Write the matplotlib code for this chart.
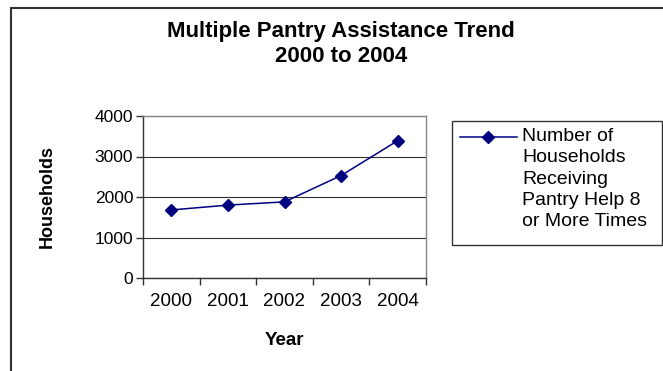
import numpy as np
import matplotlib.pyplot as plt
from matplotlib.lines import Line2D
from matplotlib.patches import Rectangle

# Values
years = ["2000", "2001", "2002", "2003", "2004"]
households = [1680, 1800, 1880, 2530, 3390]
y_ticks = [0, 1000, 2000, 3000, 4000]
title_lines = ["Multiple Pantry Assistance Trend", "2000 to 2004"]
series_label = "Number of\nHouseholds\nReceiving\nPantry Help 8\nor More Times"

plt.rcParams["font.family"] = ["Liberation Sans", "DejaVu Sans"]

W, H = 663, 371
fig = plt.figure(figsize=(W / 100, H / 100), dpi=100)


def fx(px):
    return px / W


def fy(py):
    return 1 - py / H


# outer chart border (runs off the right and bottom of the picture)
fig.patches.append(Rectangle((fx(11), -0.05), 1.1, fy(7.5) + 0.05,
                             transform=fig.transFigure, fill=False,
                             edgecolor="#333333", linewidth=1.5))

# plot area in pixels: x 143..426, y 116..278
ax = fig.add_axes([fx(143), fy(278), (426 - 143) / W, (278 - 116) / H])

x = np.arange(len(years))
navy = "#000080"
ax.plot(x, households, color=navy, linewidth=1.1, marker="D",
        markersize=6.5, markerfacecolor=navy, markeredgecolor=navy)

ax.set_xlim(-0.5, len(years) - 0.5)
ax.set_ylim(0, 4000)
ax.set_yticks(y_ticks)
ax.set_yticklabels([str(v) for v in y_ticks], fontsize=12.5)
ax.set_xticks(x)
ax.set_xticklabels(years, fontsize=13.5)
ax.tick_params(axis="x", length=0, pad=11)
ax.set_xticks(np.arange(-0.5, len(years), 1.0), minor=True)
ax.tick_params(axis="x", which="minor", length=5, width=1, color="#333333")
ax.tick_params(axis="y", length=5, width=1, color="#333333", pad=2)

ax.yaxis.grid(True, color="#333333", linewidth=0.8)
ax.set_axisbelow(True)
for side in ["top", "right"]:
    ax.spines[side].set_color("#888888")
    ax.spines[side].set_linewidth(1.0)
for side in ["left", "bottom"]:
    ax.spines[side].set_color("#333333")
    ax.spines[side].set_linewidth(1.0)

ax.set_xlabel("Year", fontsize=13.5, fontweight="bold")
ax.xaxis.set_label_coords((284 - 143) / 283, (278 - 332) / 162)
ax.set_ylabel("Households", fontsize=13, fontweight="bold")
ax.yaxis.set_label_coords((56 - 143) / 283, 0.5)

fig.text(fx(341), fy(31), title_lines[0],
         ha="center", va="center", fontsize=16, fontweight="bold")
fig.text(fx(341), fy(57), title_lines[1],
         ha="center", va="center", fontsize=16, fontweight="bold")

# legend box: x 452..662, y 121..245
fig.patches.append(Rectangle((fx(452), fy(245)), (662 - 452) / W,
                             (245 - 121) / H, transform=fig.transFigure,
                             fill=False, edgecolor="#333333", linewidth=1.0))
fig.lines.append(Line2D([fx(460), fx(517)], [fy(137), fy(137)],
                        transform=fig.transFigure, color=navy,
                        linewidth=1.1))
fig.lines.append(Line2D([fx(488)], [fy(137)], transform=fig.transFigure,
                        color=navy, marker="D", markersize=6.5,
                        markerfacecolor=navy, markeredgecolor=navy))
fig.text(fx(522), fy(128), series_label, ha="left", va="top",
         fontsize=14, linespacing=1.33)

fig.savefig("out.png", dpi=100)
